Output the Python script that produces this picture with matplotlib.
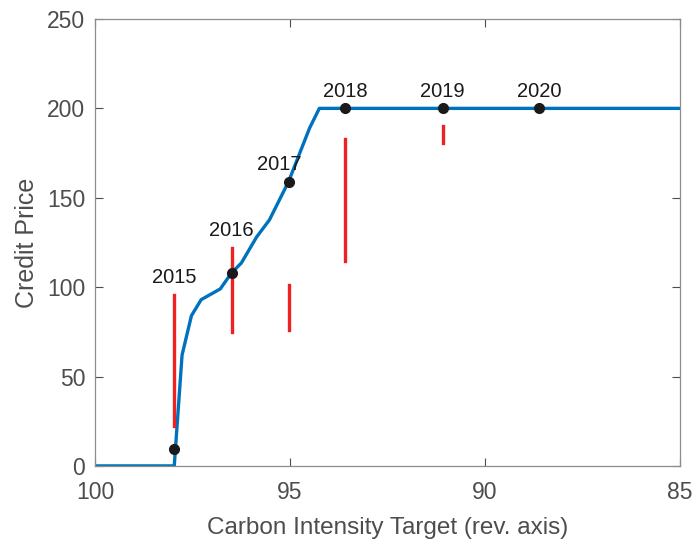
import numpy as np
import matplotlib.pyplot as plt

plt.rcParams['font.family'] = ['Liberation Sans', 'DejaVu Sans']

# credit price curve vs carbon intensity target
ci_target = [100.0, 97.97, 97.77, 97.53, 97.28, 96.79, 96.5, 96.25, 95.86, 95.53, 95.04, 94.5, 94.25, 85.0]
price = [0, 0, 62, 84, 93, 99, 108, 113.5, 128, 137.6, 159, 189, 200, 200]

# yearly targets on the curve
years = ['2015', '2016', '2017', '2018', '2019', '2020']
year_target = [97.97, 96.5, 95.04, 93.58, 91.09, 88.62]
year_price = [9.5, 108, 159, 200, 200, 200]

# observed price ranges (low, high) for years with data
range_low = [22.4, 75, 76, 114.6, 180.6]
range_high = [95.6, 122, 101, 183, 190]

blue = (0, 0.447, 0.741)
red = '#ee2222'
grey = '#4d4d4d'

fig = plt.figure(figsize=(6.94, 5.43), dpi=100)
ax = fig.add_axes([0.137, 0.142, 0.843, 0.823])

ax.plot(ci_target, price, color=blue, lw=2.4, zorder=2)
for x, lo, hi in zip(year_target, range_low, range_high):
    ax.plot([x, x], [lo, hi], color=red, lw=2.4, zorder=3)
ax.plot(year_target, year_price, 'o', color='#1a1a1a', ms=7, zorder=4)

x_shift = {'2017': 0.25}
for i, yr in enumerate(years):
    top = year_price[i]
    if i < len(range_high):
        top = max(top, range_high[i])
    ax.text(year_target[i] + x_shift.get(yr, 0), top + 6.5, yr,
            ha='center', va='baseline', fontsize=14.5, color='#1a1a1a')

ax.set_xlim(100, 85)
ax.set_ylim(0, 250)
ax.set_xticks([100, 95, 90, 85])
ax.set_yticks(np.arange(0, 251, 50))
ax.tick_params(direction='in', length=6, width=0.8, colors=grey, labelsize=16.5,
               top=True, right=True, pad=7)
ax.tick_params(axis='x', pad=11)
for s in ax.spines.values():
    s.set_color('#8c8c8c')
    s.set_linewidth(0.9)

ax.set_xlabel('Carbon Intensity Target (rev. axis)', fontsize=17.5, color=grey, labelpad=9)
ax.set_ylabel('Credit Price', fontsize=18, color=grey, labelpad=6)

fig.savefig('out.png', dpi=100)
